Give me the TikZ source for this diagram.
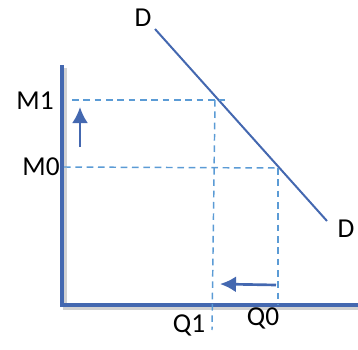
\documentclass[tikz,border=0pt]{standalone}
\usepackage{fontspec}
\setmainfont{Carlito}
\definecolor{axisblue}{RGB}{68,104,176}
\definecolor{guideblue}{RGB}{91,155,213}
\usetikzlibrary{arrows.meta,positioning,calc}

\begin{document}
\begin{tikzpicture}[x=0.75pt,y=-0.75pt]
  \tikzstyle{axis}=[draw=axisblue,line width=3.4pt]
  \tikzstyle{shade}=[draw=black!35,line width=3pt,opacity=0.5]
  \tikzstyle{guide}=[draw=guideblue,line width=1.1pt,dash pattern=on 5pt off 3.5pt]
  \tikzstyle{curve}=[draw=axisblue,line width=1.5pt]
  \tikzstyle{move}=[draw=axisblue,line width=2pt,-{Latex[length=12pt,width=12pt]}]
  \tikzstyle{lbl}=[font=\fontsize{20.5}{22}\selectfont,inner sep=0pt]

  \useasboundingbox (0,0) rectangle (358,350);

  % axes
  \coordinate (top) at (62,65);
  \coordinate (origin) at (62,305);
  \coordinate (right) at (358,305);
  \draw[shade] ($(top)+(3,3)$) -- ($(origin)+(3,3)$) -- ($(right)+(3,3)$);
  \draw[axis] (top) -- (origin) -- (right);

  % demand line
  \coordinate (dtop) at (155,29);
  \coordinate (dbot) at (327,221);
  \draw[curve] (dtop) -- (dbot);
  \node[lbl] (dA) at (143,18) {D};
  \node[lbl] (dB) at (346,229) {D};

  % guide lines
  \coordinate (m1) at (72,100);
  \coordinate (m1end) at (225,100);
  \coordinate (m0) at (64,167);
  \coordinate (m0end) at (278,168);
  \coordinate (q1top) at (215,100);
  \coordinate (q1bot) at (212,330);
  \coordinate (q0top) at (278,168);
  \coordinate (q0bot) at (278,305);
  \draw[guide] (m1) -- (m1end);
  \draw[guide] (m0) -- (m0end);
  \draw[guide] (q1top) -- (q1bot);
  \draw[guide] (q0top) -- (q0bot);

  \node[lbl] (M1) at (35,101) {M1};
  \node[lbl] (M0) at (41,167) {M0};
  \node[lbl] (Q1) at (189,325) {Q1};
  \node[lbl] (Q0) at (263,318) {Q0};

  % shifts
  \coordinate (upA) at (80,147);
  \coordinate (upB) at (80,107);
  \coordinate (lfA) at (276,285);
  \coordinate (lfB) at (220,284);
  \draw[move] (upA) -- (upB);
  \draw[move] (lfA) -- (lfB);
\end{tikzpicture}
\end{document}
